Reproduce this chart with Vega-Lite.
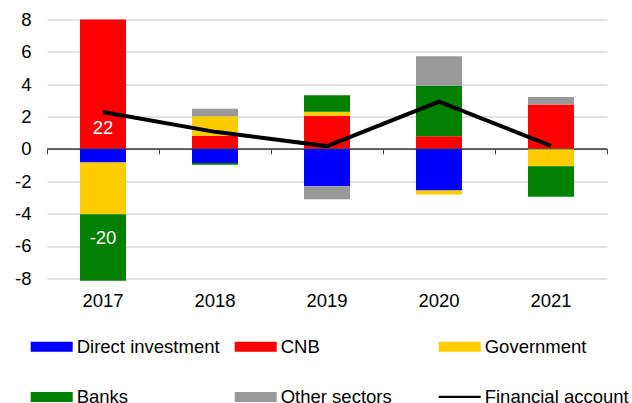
{
  "$schema": "https://vega.github.io/schema/vega-lite/v6.json",
  "width": 560,
  "height": 261.3,
  "autosize": {"type": "none"},
  "padding": {"left": 47, "top": 19.4, "right": 25, "bottom": 122.3},
  "config": {
    "view": {"stroke": null},
    "font": "Liberation Sans",
    "text": {"font": "Liberation Sans"}
  },
  "datasets": {
    "bars": [
      {"year": 2017, "series": "Direct investment", "value": -0.85},
      {"year": 2017, "series": "CNB", "value": 22},
      {"year": 2017, "series": "Government", "value": -3.2},
      {"year": 2017, "series": "Banks", "value": -20},
      {"year": 2018, "series": "Direct investment", "value": -0.88},
      {"year": 2018, "series": "CNB", "value": 0.8},
      {"year": 2018, "series": "Government", "value": 1.22},
      {"year": 2018, "series": "Banks", "value": -0.1},
      {"year": 2018, "series": "Other sectors", "value": 0.46},
      {"year": 2019, "series": "Direct investment", "value": -2.31},
      {"year": 2019, "series": "CNB", "value": 2.05},
      {"year": 2019, "series": "Government", "value": 0.24},
      {"year": 2019, "series": "Banks", "value": 1.02},
      {"year": 2019, "series": "Other sectors", "value": -0.8},
      {"year": 2020, "series": "Direct investment", "value": -2.58},
      {"year": 2020, "series": "CNB", "value": 0.78},
      {"year": 2020, "series": "Government", "value": -0.24},
      {"year": 2020, "series": "Banks", "value": 3.12},
      {"year": 2020, "series": "Other sectors", "value": 1.83},
      {"year": 2021, "series": "CNB", "value": 2.74},
      {"year": 2021, "series": "Government", "value": -1.08},
      {"year": 2021, "series": "Banks", "value": -1.88},
      {"year": 2021, "series": "Other sectors", "value": 0.47}
    ],
    "fa": [
      {"year": 2017, "series": "Financial account", "value": 2.28},
      {"year": 2018, "series": "Financial account", "value": 1.05},
      {"year": 2019, "series": "Financial account", "value": 0.17},
      {"year": 2020, "series": "Financial account", "value": 2.92},
      {"year": 2021, "series": "Financial account", "value": 0.18}
    ]
  },
  "layer": [
    {
      "layer": [
        {
          "data": {"name": "bars"},
          "transform": [
            {"calculate": "indexof(['Direct investment','CNB','Government','Banks','Other sectors'], datum.series)", "as": "k"}
          ],
          "mark": {"type": "bar", "clip": true},
          "encoding": {
            "x": {
              "field": "year", "type": "ordinal",
              "scale": {"paddingInner": 0.589, "paddingOuter": 0.2945},
              "axis": {"title": null, "ticks": false, "domain": false, "labelFontSize": 18.5, "labelPadding": 11, "labelColor": "#000", "labelAngle": 0, "labelFont": "Liberation Sans"}
            },
            "y": {
              "field": "value", "type": "quantitative", "stack": "zero",
              "scale": {"domain": [-8.15, 8], "nice": false, "zero": false},
              "axis": {"title": null, "values": [-8, -6, -4, -2, 0, 2, 4, 6, 8], "labelOverlap": false, "labelExpr": "datum.value < 0 ? '-' + abs(datum.value) : '' + datum.value", "ticks": false, "domain": false, "grid": true, "gridColor": "#d9d9d9", "gridWidth": 1.5, "labelFontSize": 18.5, "labelPadding": 16, "labelColor": "#000", "labelFont": "Liberation Sans"}
            },
            "color": {
              "field": "series", "type": "nominal",
              "scale": {
                "domain": ["Direct investment", "CNB", "Government", "Banks", "Other sectors", "Financial account"],
                "range": ["#0000ff", "#ff0000", "#ffcc00", "#008000", "#999999", "#000000"]
              },
              "legend": {
                "orient": "none", "legendX": -16.3, "legendY": 306,
                "direction": "horizontal", "columns": 3, "title": null,
                "symbolType": "M-1,-0.238H1V0.238H-1Z", "symbolSize": 1764,
                "symbolStrokeWidth": 0, "symbolOpacity": 1,
                "labelFontSize": 18.5, "labelColor": "#000", "labelFont": "Liberation Sans",
                "labelOffset": 4, "columnPadding": 14, "rowPadding": 19.5,
                "gridAlign": "all", "labelLimit": 220,
                "encode": {
                  "symbols": {
                    "update": {
                      "shape": {"signal": "datum.value === 'Financial account' ? 'M-1,-0.055H1V0.055H-1Z' : 'M-1,-0.238H1V0.238H-1Z'"},
                      "fill": {"scale": "color", "field": "value"},
                      "fillOpacity": {"value": 1},
                      "strokeWidth": {"value": 0}
                    }
                  }
                }
              }
            },
            "order": {"field": "k", "type": "quantitative"}
          }
        },
        {
          "data": {"name": "fa"},
          "mark": {"type": "line", "strokeWidth": 4},
          "encoding": {
            "x": {"field": "year", "type": "ordinal"},
            "y": {"field": "value", "type": "quantitative",
              "axis": {"title": null, "values": [-8, -6, -4, -2, 0, 2, 4, 6, 8], "labelOverlap": false, "labelExpr": "datum.value < 0 ? '-' + abs(datum.value) : '' + datum.value", "ticks": false, "domain": false, "grid": true, "gridColor": "#d9d9d9", "gridWidth": 1.5, "labelFontSize": 18.5, "labelPadding": 16, "labelColor": "#000", "labelFont": "Liberation Sans"}},
            "color": {"field": "series", "type": "nominal"}
          }
        },
        {
          "data": {"values": [{"year": 2017, "label": "22", "at": 1.3}, {"year": 2017, "label": "-20", "at": -5.5}]},
          "mark": {"type": "text", "color": "#ffffff", "fontSize": 18.5, "font": "Liberation Sans"},
          "encoding": {
            "x": {"field": "year", "type": "ordinal"},
            "y": {"field": "at", "type": "quantitative",
              "axis": {"title": null, "values": [-8, -6, -4, -2, 0, 2, 4, 6, 8], "labelOverlap": false, "labelExpr": "datum.value < 0 ? '-' + abs(datum.value) : '' + datum.value", "ticks": false, "domain": false, "grid": true, "gridColor": "#d9d9d9", "gridWidth": 1.5, "labelFontSize": 18.5, "labelPadding": 16, "labelColor": "#000", "labelFont": "Liberation Sans"}},
            "text": {"field": "label"}
          }
        }
      ]
    },
    {
      "data": {"values": [{}]},
      "mark": {"type": "rule", "color": "#404040", "strokeWidth": 1},
      "encoding": {
        "x": {
          "datum": 0, "type": "quantitative",
          "scale": {"domain": [0, 5], "nice": false, "zero": false},
          "axis": {"orient": "bottom", "offset": -131.9, "values": [0, 1, 2, 3, 4, 5], "labels": false, "title": null, "grid": false, "domain": true, "domainColor": "#404040", "domainWidth": 1, "ticks": true, "tickColor": "#404040", "tickSize": 5, "tickWidth": 1}
        },
        "x2": {"datum": 5},
        "y": {"datum": 0, "type": "quantitative",
          "axis": {"title": null, "values": [-8, -6, -4, -2, 0, 2, 4, 6, 8], "labelOverlap": false, "labelExpr": "datum.value < 0 ? '-' + abs(datum.value) : '' + datum.value", "ticks": false, "domain": false, "grid": true, "gridColor": "#d9d9d9", "gridWidth": 1.5, "labelFontSize": 18.5, "labelPadding": 16, "labelColor": "#000", "labelFont": "Liberation Sans"}}
      }
    }
  ],
  "resolve": {"scale": {"x": "independent"}}
}
